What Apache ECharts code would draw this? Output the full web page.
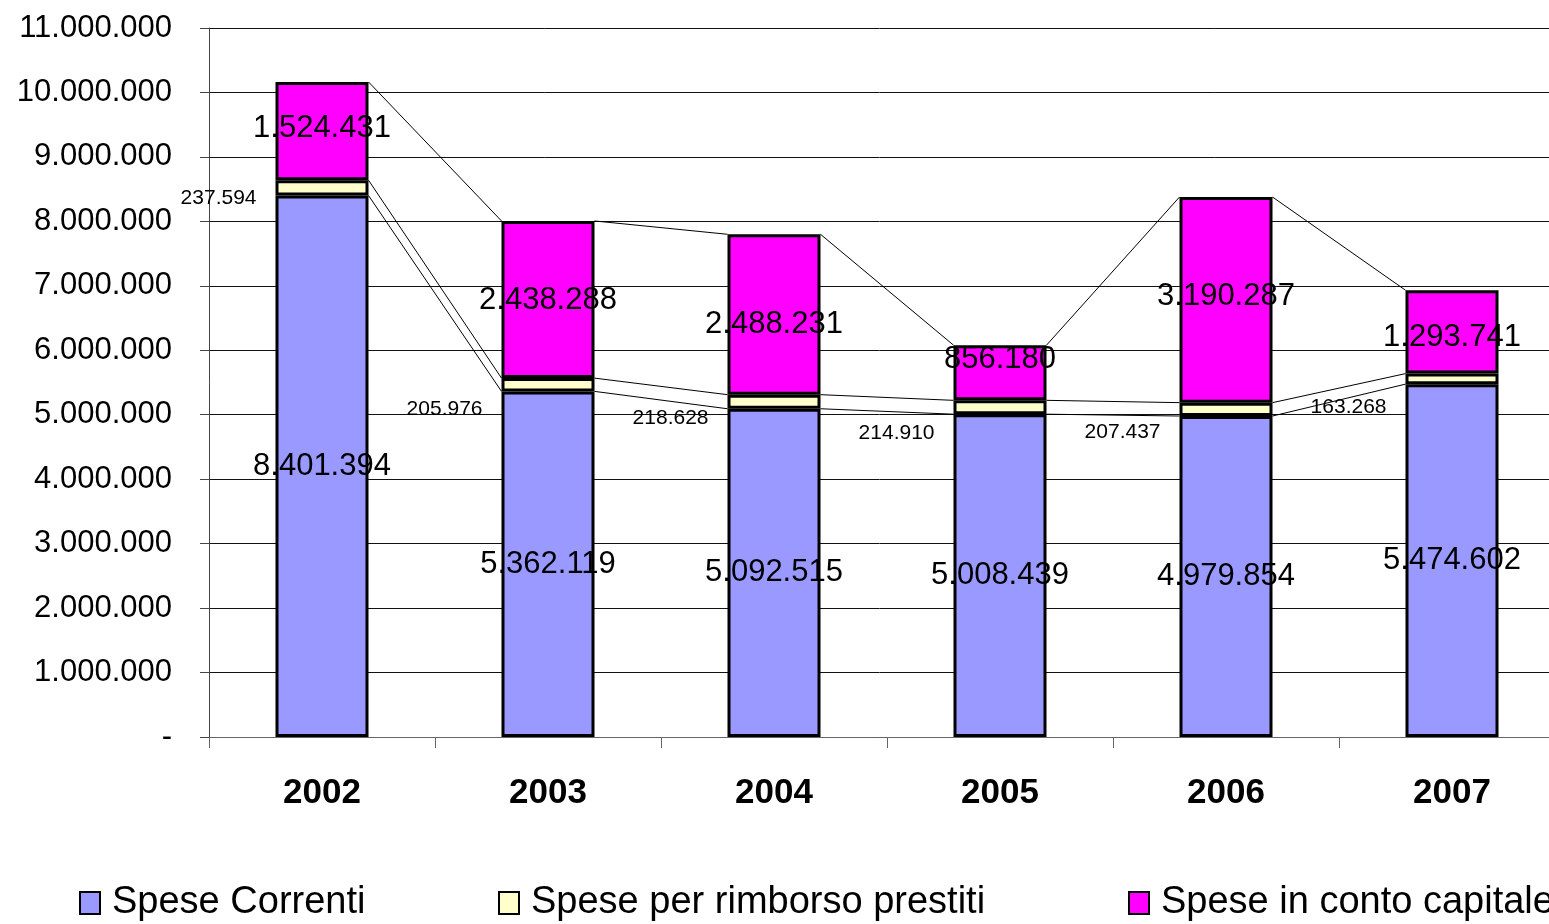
<!DOCTYPE html>
<html>
<head>
<meta charset="utf-8">
<script src="https://cdn.jsdelivr.net/npm/echarts@6/dist/echarts.min.js"></script>
<style>
  html, body { margin: 0; padding: 0; background: #fff; }
  #main { width: 1549px; height: 924px; }
</style>
</head>
<body>
<div id="main"></div>
<script>
// dati
const anni = ["2002", "2003", "2004", "2005", "2006", "2007"];
const speseCorrenti = [8401394, 5362119, 5092515, 5008439, 4979854, 5474602];
const speseRimborso = [237594, 205976, 218628, 214910, 207437, 163268];
const speseCapitale = [1524431, 2438288, 2488231, 856180, 3190287, 1293741];
const yMin = 0;
const yMax = 11000000;
const yStep = 1000000;

// spostamenti verticali delle etichette (px), come nell'originale
const dyRimborso = [10, 24, 16, 26, 23, 28];
const dyCapitale = [-3, 1, 10, -13, -3, 6];

const FONT = "Liberation Sans, Arial, sans-serif";
const BAR_W = 93;

// numeri col punto delle migliaia
const fmt = function (v) {
  if (v === 0) return "-";
  return String(v).replace(/\B(?=(\d{3})+(?!\d))/g, ".");
};

// cime cumulate per le linee di collegamento
const cum1 = speseCorrenti.map((v) => v);
const cum2 = speseCorrenti.map((v, i) => v + speseRimborso[i]);
const cum3 = speseCorrenti.map((v, i) => v + speseRimborso[i] + speseCapitale[i]);
const tops = [cum1, cum2, cum3];

const chartDom = document.getElementById("main");
const myChart = echarts.init(chartDom);

const legendBase = {
  orient: "horizontal",
  top: 884,
  padding: 0,
  itemWidth: 20,
  itemHeight: 22,
  icon: "rect",
  itemStyle: { borderColor: "#000", borderWidth: 2 },
  textStyle: { fontSize: 38, color: "#000", fontFamily: FONT, padding: [0, 0, 0, 7] },
  selectedMode: false,
};

let option = {
  animation: false,
  backgroundColor: "#fff",
  legend: [
    Object.assign({}, legendBase, { left: 79, data: ["Spese Correnti"] }),
    Object.assign({}, legendBase, { left: 498, data: ["Spese per rimborso prestiti"] }),
    Object.assign({}, legendBase, { left: 1128, data: ["Spese in conto capitale"] }),
  ],
  grid: {
    left: 209,
    top: 28,
    width: 1356,
    bottom: 187,
    outerBoundsMode: "none",
    containLabel: false,
  },
  xAxis: {
    type: "category",
    data: anni,
    axisLine: { lineStyle: { color: "#666", width: 1 } },
    axisTick: { show: true, length: 11, lineStyle: { color: "#666" } },
    axisLabel: {
      fontSize: 35,
      fontWeight: "bold",
      color: "#000",
      fontFamily: FONT,
      margin: 39,
    },
  },
  yAxis: {
    type: "value",
    min: yMin,
    max: yMax,
    interval: yStep,
    axisLine: { show: true, lineStyle: { color: "#444", width: 1 } },
    axisTick: { show: true, length: 9, lineStyle: { color: "#444" } },
    splitLine: { show: true, lineStyle: { color: "#111", width: 1 } },
    axisLabel: {
      fontSize: 31,
      color: "#000",
      fontFamily: FONT,
      margin: 37,
      formatter: fmt,
    },
  },
  series: [
    {
      name: "Spese Correnti",
      type: "bar",
      stack: "tot",
      barWidth: BAR_W,
      data: speseCorrenti,
      itemStyle: { color: "#9999FF", borderColor: "#000", borderWidth: 3 },
      label: {
        show: true,
        position: "inside",
        fontSize: 31,
        color: "#000",
        fontFamily: FONT,
        formatter: (p) => fmt(p.value),
      },
      z: 3,
    },
    {
      name: "Spese per rimborso prestiti",
      type: "bar",
      stack: "tot",
      barWidth: BAR_W,
      data: speseRimborso.map((v, i) => ({
        value: v,
        label: { offset: [0, dyRimborso[i]] },
      })),
      itemStyle: { color: "#FFFFCC", borderColor: "#000", borderWidth: 3 },
      label: {
        show: true,
        position: "left",
        distance: 19,
        fontSize: 21,
        color: "#000",
        fontFamily: FONT,
        formatter: (p) => fmt(p.value),
      },
      z: 3,
    },
    {
      name: "Spese in conto capitale",
      type: "bar",
      stack: "tot",
      barWidth: BAR_W,
      data: speseCapitale.map((v, i) => ({
        value: v,
        label: { offset: [0, dyCapitale[i]] },
      })),
      itemStyle: { color: "#FF00FF", borderColor: "#000", borderWidth: 3 },
      label: {
        show: true,
        position: "inside",
        fontSize: 31,
        color: "#000",
        fontFamily: FONT,
        formatter: (p) => fmt(p.value),
      },
      z: 3,
    },
    {
      // linee di serie tra le colonne
      name: "linee",
      type: "custom",
      coordinateSystem: "cartesian2d",
      encode: { x: 0, y: 1 },
      silent: true,
      z: 2,
      data: anni.slice(0, anni.length - 1).map((a, i) => [i, 0]),
      renderItem: function (params, api) {
        const i = api.value(0);
        const half = BAR_W / 2;
        const children = tops.map(function (t) {
          const p1 = api.coord([i, t[i]]);
          const p2 = api.coord([i + 1, t[i + 1]]);
          return {
            type: "line",
            shape: { x1: p1[0] + half, y1: p1[1], x2: p2[0] - half, y2: p2[1] },
            style: { stroke: "#000", lineWidth: 1 },
          };
        });
        return { type: "group", children: children };
      },
    },
  ],
};

myChart.setOption(option);
</script>
</body>
</html>
